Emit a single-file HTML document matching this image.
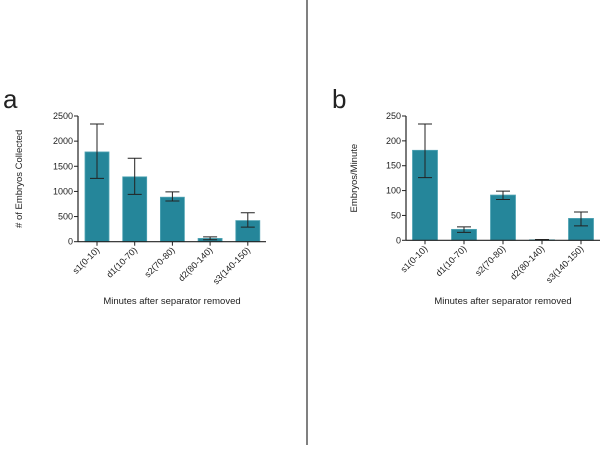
<!DOCTYPE html>
<html><head><meta charset="utf-8"><style>
body{margin:0;background:#fff;font-family:"Liberation Sans",sans-serif}
svg text{font-family:"Liberation Sans",sans-serif;fill:#222}
</style></head><body>
<svg id="s" width="604" height="445">
<line x1="307" y1="0" x2="307" y2="445" stroke="#000" stroke-width="1"/>
<text x="3" y="108" font-size="26">a</text>
<text x="332" y="108" font-size="26">b</text>
</svg>
<script>
const categories=["s1(0-10)","d1(10-70)","s2(70-80)","d2(80-140)","s3(140-150)"];
const aValues=[1785,1290,885,65,420];
const aHigh=[2340,1660,990,95,575];
const aLow=[1260,940,810,40,290];
const aTicks=[0,500,1000,1500,2000,2500];
const bValues=[181,22,91,1,44];
const bHigh=[234,27,99,1.5,57];
const bLow=[126,16,82,0.5,29];
const bTicks=[0,50,100,150,200,250];
const NS="http://www.w3.org/2000/svg";
const svg=document.getElementById('s');
function mk(t,a,p){const e=document.createElementNS(NS,t);for(const k in a)e.setAttribute(k,a[k]);(p||svg).appendChild(e);return e;}
function chart(o){
  const g=mk('g',{});
  
  
  const y=v=>o.y0-(v/o.max)*(o.y0-o.yTop);
  const x=i=>o.x0+o.first+i*o.step;
  categories.forEach((c,i)=>{
    const r=mk('rect',{x:x(i)-o.bw/2,y:y(o.vals[i]),width:o.bw,height:o.y0-y(o.vals[i]),fill:'#25869a',stroke:'#4fa3b3','stroke-width':0.8},g);
    
    
    const e=mk('path',{d:`M${x(i)},${y(o.hi[i])}V${y(o.lo[i])}M${x(i)-7},${y(o.hi[i])}h14M${x(i)-7},${y(o.lo[i])}h14`,stroke:'#222','stroke-width':1,fill:'none'},g);
    
    
    mk('line',{x1:x(i),x2:x(i),y1:o.y0,y2:o.y0+4,stroke:'#222'},g);
    const t=mk('text',{'font-size':9,'text-anchor':'end',transform:`translate(${x(i)+3},${o.y0+9}) rotate(-45)`},g);
    t.textContent=c;
    
    
  });
  mk('line',{x1:o.x0,x2:o.x0,y1:o.yTop,y2:o.y0,stroke:'#222','stroke-width':1.2},g);
  mk('line',{x1:o.x0,x2:o.xEnd,y1:o.y0,y2:o.y0,stroke:'#222','stroke-width':1.2},g);
  o.ticks.forEach(v=>{
    mk('line',{x1:o.x0-4,x2:o.x0,y1:y(v),y2:y(v),stroke:'#222'},g);
    const t=mk('text',{x:o.x0-5,y:y(v)+3,'font-size':9,'text-anchor':'end'},g);
    t.textContent=v;
    
    
  });
  const yt=mk('text',{'font-size':9.5,'text-anchor':'middle',transform:`translate(${o.ytx},${(o.y0+o.yTop)/2}) rotate(-90)`},g);
  yt.textContent=o.ytitle;
  
  
  const xt=mk('text',{x:(o.x0+o.xEnd)/2,y:304,'font-size':9.5,'text-anchor':'middle'},g);
  xt.textContent='Minutes after separator removed';
  
  
}
chart({name:'chart-a',x0:78,xEnd:266,y0:241.7,yTop:116,max:2500,first:19,step:37.7,bw:24,vals:aValues,hi:aHigh,lo:aLow,ticks:aTicks,ytitle:'# of Embryos Collected',ytx:22});
chart({name:'chart-b',x0:406,xEnd:600,y0:240.3,yTop:116,max:250,first:19,step:39,bw:25,vals:bValues,hi:bHigh,lo:bLow,ticks:bTicks,ytitle:'Embryos/Minute',ytx:357});
</script>
</body></html>
